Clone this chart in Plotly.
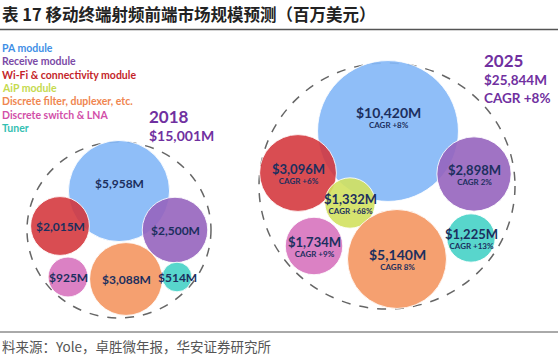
import plotly.graph_objects as go

# ---------------- data ----------------
segments = ["PA module", "Receive module", "Wi-Fi & connectivity module", "AiP module",
            "Discrete filter, duplexer, etc.", "Discrete switch & LNA", "Tuner"]
values_2018 = [5958, 2500, 2015, None, 3088, 925, 514]
values_2025 = [10420, 2898, 3096, 1332, 5140, 1734, 1225]
cagr_2025 = ["CAGR +8%", "CAGR 2%", "CAGR +6%", "CAGR +68%", "CAGR 8%", "CAGR +9%", "CAGR +13%"]
total_2018 = 15001
total_2025 = 25844
total_cagr = "CAGR +8%"

# ---------------- layout (pixel positions of bubble packing) ----------------
W, H = 558, 362
pos_2018 = [(119, 191), (175, 230), (60, 226), None, (126, 279), (68, 277), (177, 277)]
pos_2025 = [(388, 131), (474, 174), (298, 173), (350, 203), (397, 259), (314, 246), (471, 238)]
label_shift_2018 = [8, 0, 0, 0, 0, 0, 0]
label_shift_2025 = [14, 0, 0, 0, 0, 0, 0]

fill_colors = ["rgba(133,185,247,0.92)", "rgba(150,100,190,0.9)", "rgba(212,52,58,0.88)",
               "rgba(210,225,95,0.9)", "rgba(244,152,100,0.92)", "rgba(215,115,190,0.9)",
               "rgba(70,210,198,0.9)"]
legend_colors = ["#3f8fe6", "#7b4aa6", "#c41f2a", "#c5da4e", "#f08650", "#d24fa8", "#33c0b2"]
label_color = "#1c2f5e"
title_purple = "#7030a0"

fig = go.Figure()

def add_year(values, positions, k, shifts, cagr=None):
    sizeref = 1.0 / (2 * k * k)  # bubble radius = k * sqrt(value)
    for i, v in enumerate(values):
        if v is None:
            continue
        x, y = positions[i]
        fig.add_trace(go.Scatter(
            x=[x], y=[y], mode="markers",
            marker=dict(size=[v], sizemode="area", sizeref=sizeref, opacity=1,
                        color=fill_colors[i],
                        line=dict(color="rgba(255,255,255,0.85)", width=1)),
            hoverinfo="skip", showlegend=False))
    for i, v in enumerate(values):
        if v is None:
            continue
        x, y = positions[i]
        txt = f"${v:,}M"
        if cagr is None:
            fig.add_annotation(x=x, y=y, text=f"<b>{txt}</b>", showarrow=False,
                               yshift=shifts[i],
                               font=dict(family="Lato", size=12, color=label_color))
        else:
            big = 14 if v > 5000 else 13
            fig.add_annotation(
                x=x, y=y, showarrow=False, yshift=shifts[i],
                text=f"<b><span style='font-size:{big}px'>{txt}</span></b><br><b>{cagr[i]}</b>",
                font=dict(family="Lato", size=8, color=label_color))

add_year(values_2018, pos_2018, 0.655, label_shift_2018)
add_year(values_2025, pos_2025, 0.69, label_shift_2025, cagr=cagr_2025)

# dashed outer circles
fig.add_shape(type="circle", xref="x", yref="y", x0=27, x1=211, y0=142, y1=318,
              line=dict(color="#666666", width=1.5, dash="dash"), layer="below")
fig.add_shape(type="circle", xref="x", yref="y", x0=259, x1=515, y0=63, y1=309,
              line=dict(color="#666666", width=1.5, dash="dash"), layer="below")

# title and rules
fig.add_annotation(x=0, y=1 - 14 / H, xref="paper", yref="paper",
                   xanchor="left", yanchor="middle", showarrow=False,
                   text="<b>表 17 移动终端射频前端市场规模预测（百万美元）</b>",
                   font=dict(family="Noto Sans CJK SC", size=16.5, color="#222222"))
fig.add_shape(type="line", xref="x", yref="y", x0=0, x1=W, y0=29.5, y1=29.5,
              line=dict(color="#555555", width=1.5))
fig.add_shape(type="line", xref="x", yref="y", x0=0, x1=W, y0=332, y1=332,
              line=dict(color="#555555", width=1))
fig.add_annotation(x=0, y=1 - 346 / H, xref="paper", yref="paper",
                   xanchor="left", yanchor="middle", showarrow=False,
                   text="料来源：Yole，卓胜微年报，华安证券研究所",
                   font=dict(family="Noto Sans CJK SC", size=13.5, color="#555555"))

# legend text
legend_y = [48, 61, 75, 88, 101, 115, 128]
for name, col, y in zip(segments, legend_colors, legend_y):
    fig.add_annotation(x=0, y=y, xanchor="left", yanchor="middle", showarrow=False,
                       text=f"<b>{name}</b>",
                       font=dict(family="Lato", size=10.5, color=col))

# year totals
fig.add_annotation(x=147, y=116, xanchor="left", yanchor="middle", showarrow=False,
                   text="<b>2018</b>", font=dict(family="Lato", size=17, color=title_purple))
fig.add_annotation(x=147, y=135, xanchor="left", yanchor="middle", showarrow=False,
                   text=f"<b>${total_2018:,}M</b>", font=dict(family="Lato", size=14, color=title_purple))
fig.add_annotation(x=482, y=60, xanchor="left", yanchor="middle", showarrow=False,
                   text="<b>2025</b>", font=dict(family="Lato", size=17, color=title_purple))
fig.add_annotation(x=482, y=80, xanchor="left", yanchor="middle", showarrow=False,
                   text=f"<b>${total_2025:,}M</b>",
                   font=dict(family="Lato", size=13.5, color=title_purple))
fig.add_annotation(x=482, y=98, xanchor="left", yanchor="middle", showarrow=False,
                   text=f"<b>{total_cagr}</b>",
                   font=dict(family="Lato", size=13.5, color=title_purple))

fig.update_layout(
    width=W, height=H, margin=dict(l=0, r=0, t=0, b=0),
    paper_bgcolor="white", plot_bgcolor="white",
    xaxis=dict(range=[0, W], visible=False, fixedrange=True),
    yaxis=dict(range=[H, 0], visible=False, fixedrange=True),
    showlegend=False,
)

fig.write_html("out.html", config={"displayModeBar": False},
               post_script="document.body.style.margin='0';document.body.style.overflow='hidden';")
